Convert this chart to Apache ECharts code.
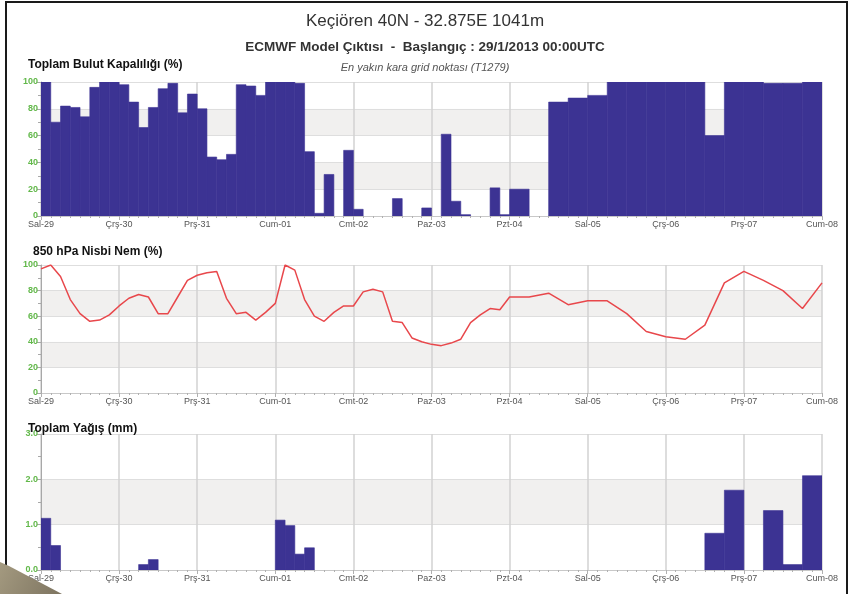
<!DOCTYPE html>
<html><head><meta charset="utf-8">
<script src="https://cdn.jsdelivr.net/npm/echarts@6/dist/echarts.min.js"></script>
<style>html,body{margin:0;padding:0;background:#fff}#c{width:850px;height:594px}</style>
</head><body><div id="c"></div>
<script>
// ---- data ----
const dayLabels = ['Sal-29','Çrş-30','Prş-31','Cum-01','Cmt-02','Paz-03','Pzt-04','Sal-05','Çrş-06','Prş-07','Cum-08'];
// cloud cover (%), 3-hourly bars from hour 0 to 144
const cloud3h = [100,70,82,81,74,96,100,100,98,85,66,81,95,99,77,91,80,44,42,46,98,97,90,100,100,100,99,48,2,31,0,49,5,0,0,0,13,0,0,6,0,61,11,1,0,0,21,1];
// cloud cover (%), 6-hourly bars from hour 144 to 240
const cloud6h = [20,0,85,88,90,100,100,100,100,100,60,100,100,99,99,100];
// 850 hPa relative humidity (%), 3-hourly points hour 0..144
const hum3h = [97,100,91,73,62,56,57,61,68,74,77,75,62,62,75,88,92,94,95,74,62,63,57,63,70,100,96,73,60,56,63,68,68,79,81,79,56,55,43,40,38,37,39,42,55,61,66,65,75];
// 850 hPa relative humidity (%), 6-hourly points hour 150..240
const hum6h = [75,78,69,72,72,62,48,44,42,53,86,95,88,80,66,86];
// total precipitation (mm), 3-hourly bars hour 0..144
const rain3h = [1.14,0.54,0,0,0,0,0,0,0,0,0.12,0.23,0,0,0,0,0,0,0,0,0,0,0,0,1.10,0.98,0.35,0.49,0,0,0,0,0,0,0,0,0,0,0,0,0,0,0,0,0,0,0,0];
// total precipitation (mm), 6-hourly bars hour 144..240
const rain6h = [0,0,0,0,0,0,0,0,0,0,0.81,1.76,0,1.31,0.12,2.08];

function toBars(v3, v6){
  const out=[];
  v3.forEach((v,i)=>out.push([i*3, i*3+3, v]));
  v6.forEach((v,i)=>out.push([144+i*6, 150+i*6, v]));
  return out;
}
function toLine(v3, v6){
  const out=[];
  v3.forEach((v,i)=>out.push([i*3, v]));
  v6.forEach((v,i)=>out.push([150+i*6, v]));
  return out;
}

const FONT = "'Liberation Sans Narrow','Liberation Sans',Arial,sans-serif";
const BAR = '#3c3393';
const GREEN = '#62b84a';

function renderBar(params, api){
  if (!api.value(2)) return null;
  const a = api.coord([api.value(0), api.value(2)]);
  const b = api.coord([api.value(1), 0]);
  return {type:'rect', shape:{x:a[0], y:a[1], width:b[0]-a[0], height:b[1]-a[1]},
    style:{fill:BAR, stroke:BAR, lineWidth:0.6}};
}

function xAxis(i){
  return {
    type:'value', gridIndex:i, min:0, max:240, interval:24,
    axisLine:{show:true, onZero:false, lineStyle:{color:'#c8c8c8', width:1}},
    axisTick:{show:true, length:4, lineStyle:{color:'#b0b0b0'}},
    minorTick:{show:true, splitNumber:8, length:2, lineStyle:{color:'#b0b0b0'}},
    splitLine:{show:true, lineStyle:{color:'#d2d2d2', width:1.5}},
    axisLabel:{color:'#555', fontSize:9, fontFamily:FONT, margin:4, formatter:v=>dayLabels[Math.round(v/24)]}
  };
}
function yAxis(i, max, interval, fmt){
  return {
    type:'value', gridIndex:i, min:0, max:max, interval:interval,
    axisLine:{show:true, lineStyle:{color:'#a8a8a8'}},
    axisTick:{show:true, length:4, lineStyle:{color:'#a8a8a8'}},
    minorTick:{show:true, splitNumber:2, length:3, lineStyle:{color:'#a8a8a8'}},
    splitLine:{show:true, lineStyle:{color:'#dedede', width:1}},
    splitArea:{show:true, areaStyle:{color:['#ffffff','#f1f0ef']}},
    axisLabel:{color:GREEN, fontSize:9, fontWeight:'bold', fontFamily:FONT, margin:3, formatter:fmt}
  };
}

const chart = echarts.init(document.getElementById('c'), null, {renderer:'canvas'});
chart.setOption({
  backgroundColor:'#ffffff',
  animation:false,
  title:[
    {text:'Keçiören 40N - 32.875E 1041m', left:'center', top:8, textStyle:{fontFamily:"'Liberation Sans',Arial,sans-serif", fontSize:17, fontWeight:'normal', color:'#333'}},
    {text:'ECMWF Model Çıktısı  -  Başlangıç : 29/1/2013 00:00UTC', left:'center', top:35, textStyle:{fontFamily:FONT, fontSize:13.5, fontWeight:'bold', color:'#333'}},
    {text:'En yakın kara grid noktası (T1279)', left:'center', top:57, textStyle:{fontFamily:"'Liberation Sans',Arial,sans-serif", fontSize:11, fontStyle:'italic', fontWeight:'normal', color:'#555'}},
    {text:'Toplam Bulut Kapalılığı (%)', left:23, top:54, textStyle:{fontFamily:FONT, fontSize:12, fontWeight:'bold', color:'#111'}},
    {text:'850 hPa Nisbi Nem (%)', left:28, top:241, textStyle:{fontFamily:FONT, fontSize:12, fontWeight:'bold', color:'#111'}},
    {text:'Toplam Yağış (mm)', left:23, top:418, textStyle:{fontFamily:FONT, fontSize:12, fontWeight:'bold', color:'#111'}}
  ],
  grid:[
    {left:41, right:28, top:82, height:134},
    {left:41, right:28, top:265, height:128},
    {left:41, right:28, top:434, height:136}
  ],
  xAxis:[xAxis(0), xAxis(1), xAxis(2)],
  yAxis:[
    yAxis(0, 100, 20, v=>String(v)),
    yAxis(1, 100, 20, v=>String(v)),
    yAxis(2, 3, 1, v=>v.toFixed(1))
  ],
  series:[
    {type:'custom', xAxisIndex:0, yAxisIndex:0, renderItem:renderBar, clip:true, encode:{x:[0,1], y:2}, data:toBars(cloud3h, cloud6h), z:3},
    {type:'line', xAxisIndex:1, yAxisIndex:1, data:toLine(hum3h, hum6h), showSymbol:false, symbol:'none', lineStyle:{color:'#e8474b', width:1.5}, z:3},
    {type:'custom', xAxisIndex:2, yAxisIndex:2, renderItem:renderBar, clip:true, encode:{x:[0,1], y:2}, data:toBars(rain3h, rain6h), z:3}
  ],
  graphic:[
    {type:'rect', silent:true, z:100, shape:{x:6, y:2, width:841, height:620}, style:{fill:'none', stroke:'#1a1a1a', lineWidth:2}},
    {type:'polygon', silent:true, z:101, shape:{points:[[0,562],[9,566],[62,594],[0,594]]},
      style:{fill:new echarts.graphic.LinearGradient(0,0,1,1,[{offset:0,color:'#a49a80'},{offset:1,color:'#7d7460'}])}}
  ]
});
</script></body></html>
